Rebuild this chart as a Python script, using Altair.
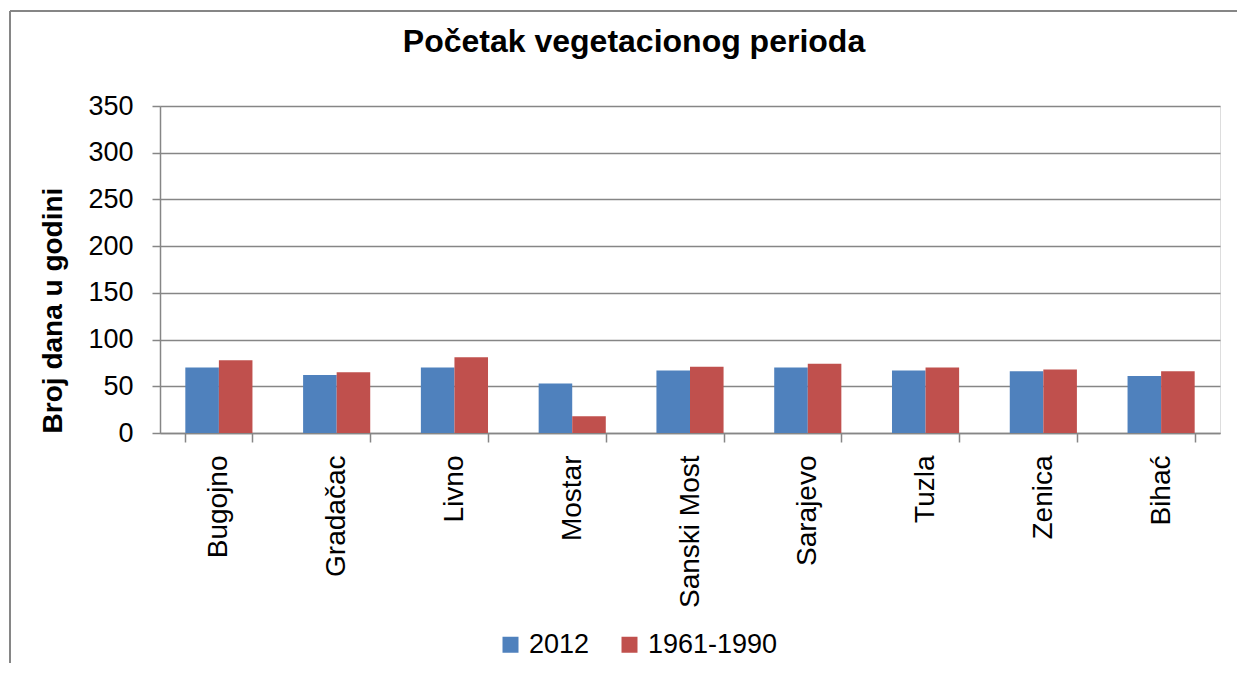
import altair as alt
import pandas as pd

stations = ["Bugojno", "Gradačac", "Livno", "Mostar", "Sanski Most", "Sarajevo", "Tuzla", "Zenica", "Bihać"]
series_2012 = [70, 62, 70, 53, 67, 70, 67, 66, 61]
series_1961_1990 = [78, 65, 81, 18, 71, 74, 70, 68, 66]
series_names = ["2012", "1961-1990"]
colors = ["#4F81BD", "#C0504D"]
y_ticks = [0, 50, 100, 150, 200, 250, 300, 350]

rows = []
for i, s in enumerate(stations):
    rows.append({"station": s, "series": series_names[0], "value": series_2012[i]})
    rows.append({"station": s, "series": series_names[1], "value": series_1961_1990[i]})
df = pd.DataFrame(rows)

FONT = "Liberation Sans"
W, H = 1060, 327

bars = alt.Chart(df).mark_bar().encode(
    x=alt.X("station:N", sort=stations,
            scale=alt.Scale(paddingInner=0.43, paddingOuter=0.215),
            axis=alt.Axis(title=None, labelAngle=270, labelFontSize=28, labelFont=FONT,
                          labelColor="#000000", labelPadding=13, tickBand="extent",
                          tickSize=9, tickColor="#868686", tickWidth=1.5,
                          domainColor="#868686", domainWidth=1.5, grid=False)),
    xOffset=alt.XOffset("series:N", sort=series_names,
                        scale=alt.Scale(paddingInner=0, paddingOuter=0)),
    y=alt.Y("value:Q", scale=alt.Scale(domain=[0, 350], nice=False),
            axis=alt.Axis(title="Broj dana u godini", values=y_ticks, labelFontSize=27,
                          labelFont=FONT, labelColor="#000000", labelPadding=19,
                          tickSize=8, tickColor="#868686", tickWidth=1.5,
                          domainColor="#868686", domainWidth=1.5,
                          gridColor="#868686", gridWidth=1.5,
                          titleFont=FONT, titleFontSize=28, titleFontWeight="bold",
                          titleColor="#000000", titleX=-107, titleY=204,
                          titleAlign="center", titleBaseline="middle", titleAngle=270)),
    color=alt.Color("series:N", sort=series_names,
                    scale=alt.Scale(domain=series_names, range=colors),
                    legend=alt.Legend(title=None, orient="none", direction="horizontal",
                                      legendX=337, legendY=525, symbolType="square",
                                      symbolSize=256, symbolStrokeWidth=0,
                                      labelFontSize=27, labelFont=FONT, labelColor="#000000",
                                      labelOffset=5, columnPadding=26)),
)

frame_df = pd.DataFrame({"k": [0]})
frame_left = alt.Chart(frame_df).mark_rule(color="#868686", strokeWidth=2).encode(
    x=alt.value(-150), y=alt.value(-95), y2=alt.value(600))
frame_top = alt.Chart(frame_df).mark_rule(color="#868686", strokeWidth=2).encode(
    x=alt.value(-150), x2=alt.value(1200), y=alt.value(-95))

chart = alt.layer(bars, frame_left, frame_top).properties(
    width=W, height=H,
    title=alt.TitleParams("Početak vegetacionog perioda", font=FONT, fontSize=32,
                          fontWeight="bold", color="#000000", anchor="middle",
                          baseline="alphabetic", dx=-56, offset=0, dy=74),
    autosize=alt.AutoSizeParams(type="none"),
    padding={"left": 152, "top": 98, "right": 17, "bottom": 230},
).configure_view(stroke=None).configure(background="white")

chart.save("out.html", embed_options={"renderer": "svg", "actions": False})
